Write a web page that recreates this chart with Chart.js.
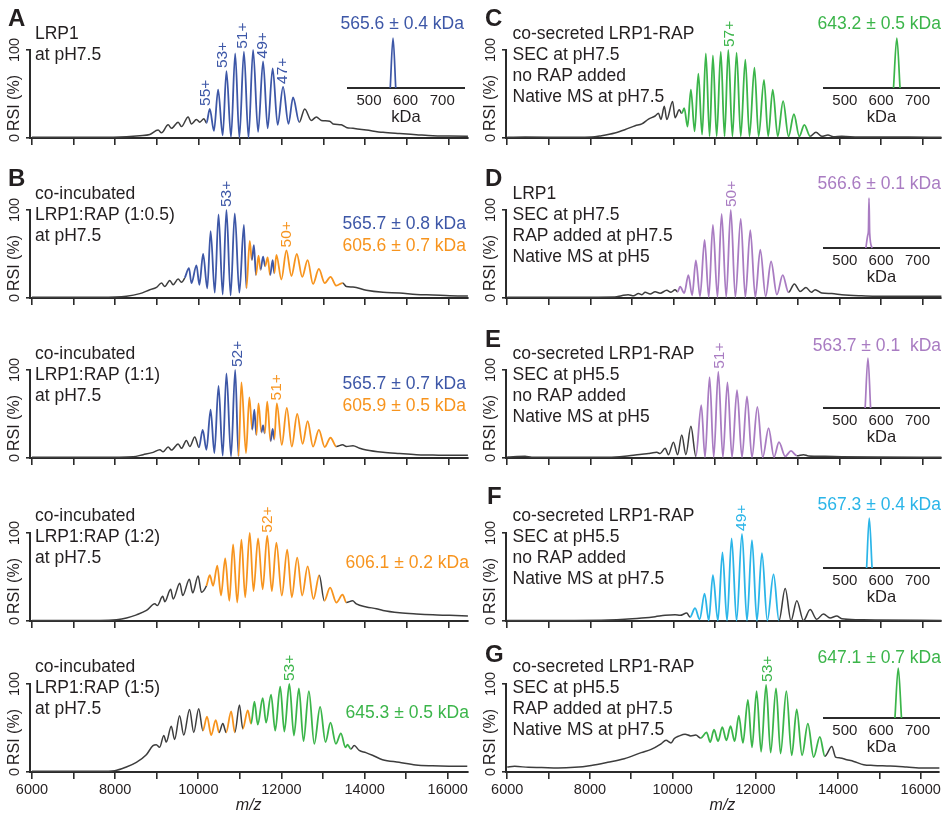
<!DOCTYPE html>
<html>
<head>
<meta charset="utf-8">
<script src="https://cdn.jsdelivr.net/npm/chart.js@4.4.1/dist/chart.umd.min.js"></script>
<style>
  body { margin: 0; background: #fff; width: 949px; height: 814px; position: relative; overflow: hidden;
         font-family: "Liberation Sans", Arial, sans-serif; color: #231f20; }
  canvas { position: absolute; }
  .t { position: absolute; font-size: 17.5px; line-height: 21px; white-space: pre; }
  .L { position: absolute; font-size: 24px; line-height: 24px; font-weight: bold; }
</style>
</head>
<body>
<script>
// ---- spectra: m/z and relative signal intensity (%) ----
const mzA  = [6000,6830,7630,8270,8590,8830,9030,9110,9270,9350,9510,9590,9750,9830,9950,10030,10130,10190,10270,10370,10470,10580,10670,10780,10880,10980,11090,11200,11310,11430,11550,11660,11780,11900,12030,12160,12270,12420,12550,12710,12830,12950,13150,13230,13430,13550,13710,14030,14430,14830,15230,15630,16030,16470];
const rsiA = [0.8,0.8,0.8,1.5,2.6,4,9,6,15,11,18,13,24,16,21,18,22,17,33,8,55,3,76,1,96,0.5,98,0.5,100,7,87,11,79,15,58,16,46,18,33,20,24,20,19,16,15,12,11,9,6.4,5,3.8,2.6,2.3,2];

const mzB  = [6000,7630,8270,8590,8830,8990,9110,9190,9310,9390,9510,9590,9670,9770,9830,9950,10020,10110,10210,10290,10390,10480,10580,10670,10770,10870,10980,11090,11150,11230,11280,11330,11380,11440,11490,11550,11600,11660,11720,11780,11820,11870,11990,12110,12230,12360,12490,12620,12750,12890,13030,13170,13310,13460,13550,13710,14030,14430,14830,15230,15630,16030,16470];
const rsiB = [0.8,0.8,2,5,9.4,12,17,13,20,15,21.5,18,23,34,17,37,15,50,11,76,6,95,4,100,3,96,6,83,11,65,43,60,26,48,32,47,36,46,26,43,28,49,21,54,25,50,24,43,16,33,17,24,14,17,13,12.5,8.7,6.4,5.7,4,3.4,2.6,2.3];

const mzB2  = [6000,7630,8430,8670,8910,9070,9150,9270,9350,9510,9590,9710,9790,9910,10010,10100,10190,10290,10380,10480,10580,10670,10780,10880,10960,11030,11140,11220,11290,11340,11390,11440,11510,11550,11590,11650,11730,11780,11820,11880,12000,12120,12240,12370,12500,12620,12750,12890,13030,13170,13310,13460,13550,13710,13870,14030,14430,14830,15230,15630,16030,16470];
const rsiB2 = [0.8,0.8,1.5,3.8,6.4,9.4,7,12.5,9,16,11,20,13,24,12,32,9.4,55,5.7,82,2.6,96,1.9,100,1.9,86,5.7,69,32,55,26,62,29,37,28,64,19,33,21,62,15,57,13,50,16,42,13,32,12.5,23,13,15,13,14,11,9,6.4,5,3.8,3.4,3,3];

const mzB3  = [6000,7630,8030,8270,8510,8750,8950,9010,9140,9190,9330,9390,9550,9620,9780,9860,9990,10070,10190,10270,10350,10450,10540,10640,10740,10830,10930,11030,11120,11230,11320,11430,11540,11650,11760,11870,12000,12130,12240,12370,12490,12620,12760,12900,13020,13160,13310,13460,13550,13700,13790,14030,14270,14430,14830,15230,15630,16030,16470];
const rsiB3 = [0.7,0.7,1.5,3.4,7,12,19.5,17.5,28,22,36,25,43,29,47.5,32,51,32.6,40,52,40,63,29,71,23,87,21,92.5,27,100,34,94,36,97,34,89,29,81,27,72,29,62,25,52,23,38,21,30,21,23,19.5,16,14,12,9.4,8,7,6.4,5.6];

const mzB4  = [6000,7630,7990,8270,8510,8750,8910,8990,9070,9170,9230,9350,9430,9550,9650,9790,9890,10010,10110,10210,10310,10420,10500,10590,10670,10790,10880,10990,11070,11190,11270,11350,11430,11550,11630,11750,11850,11970,12070,12190,12300,12420,12530,12660,12790,12930,13060,13180,13310,13430,13540,13590,13670,13750,13870,14030,14190,14430,14830,15230,15630,16030,16470];
const rsiB4 = [0.8,0.8,1.5,5.7,11,19.6,30,31,28,41.5,34,52,37,64,42,71,45,72,47,63,42,59,45,55,45,69,45,76,49,70,55,80,54,84,56,88,47,97,46,100,41.5,95,35,92,32,74,34,56,32,44,28,31,26,30,24.5,22,19,14,11,8,7,6.5,6.4];

const mzC  = [6000,6430,7630,8030,8270,8590,8830,9080,9240,9400,9560,9640,9700,9780,9840,9980,10040,10140,10200,10260,10340,10420,10510,10600,10690,10780,10870,10950,11040,11140,11230,11320,11420,11520,11620,11730,11830,11950,12050,12180,12280,12390,12510,12640,12770,12900,13030,13150,13290,13430,13570,13720,13850,14050,14460,14860,15660,16450];
const rsiC = [0.8,1,0.8,1,2.6,5.7,9.4,14,16,21.5,25,28,21,36,21,41.5,23,32,28,34,13,55,7.5,73,3.8,96,1.9,94,1.9,98,1.9,100,1.9,97,1.9,89,1.9,80,1.9,66,1.9,55,1.9,42,1.9,27,1.9,15,1.9,6.4,1.9,3.4,1.5,1.9,1.1,1.1,1.1,0.8];

const mzD  = [6000,7630,8590,8750,8910,9040,9160,9240,9320,9440,9560,9680,9840,9940,10040,10100,10160,10260,10360,10450,10540,10640,10750,10850,10950,11060,11160,11270,11380,11490,11620,11730,11850,11970,12090,12220,12350,12490,12630,12770,12910,13050,13190,13320,13410,13570,13810,14050,14460,14860,15660,16450];
const rsiD = [0.8,0.8,1.1,2.6,3.8,2.6,5,3.8,6.4,4.5,7,5.5,8.7,6.5,9.4,7,13,5.7,26,3,42.6,1.9,66,1.1,83,1.1,95.5,1.1,100,1.1,90,1.1,77,1.1,55,1.9,41.5,3.8,26,6.4,16,7.5,12,6.4,9.4,5.7,5,3.8,2.6,1.9,1.9,1.9];

const mzE  = [6000,6430,6590,7630,8430,8830,9080,9240,9400,9480,9600,9680,9800,9880,10000,10100,10200,10300,10420,10540,10670,10760,10870,10970,11080,11190,11300,11410,11530,11650,11770,11890,12020,12150,12290,12420,12540,12690,12830,12970,13130,13250,13650,14050,14860,16450];
const rsiE = [1.1,1.9,0.8,0.8,0.8,1.9,3.4,4.2,5,5.7,6.4,5,11,3.8,18,3.8,26,3.8,36,1.9,60,0.8,92,0.8,98,0.8,86,0.8,77,0.8,70,0.8,58,0.8,34,1.1,18,1.9,8,2.6,3.8,2.3,1.9,1.5,1.1,0.8];

const mzF  = [6000,7630,8430,8830,9240,9560,9800,10040,10160,10320,10400,10520,10630,10750,10850,10950,11070,11180,11290,11400,11520,11650,11770,11890,12010,12130,12260,12410,12540,12690,12830,12970,13130,13290,13450,13610,13770,13930,14050,14460,14860,16450];
const rsiF = [0.7,0.7,1.1,1.9,3.4,4.9,6.4,7,6.4,9,4.5,14.6,1.9,31,0.7,52,0.4,78,0.4,94,0.4,99,0.4,92,0.4,77,0.4,53,0.4,37,0.4,23,0.4,13,1.9,8,3.4,5.6,2.6,1.5,1.1,0.7];

const mzG  = [6000,6180,6510,6830,7230,7630,8030,8430,8830,9240,9480,9720,9840,9960,10040,10160,10300,10440,10560,10680,10820,10910,11000,11100,11200,11300,11400,11500,11600,11700,11820,11920,12030,12140,12260,12370,12500,12610,12750,12880,13000,13130,13270,13410,13560,13680,13850,13940,14050,14210,14380,14620,14860,15260,15660,16060,16450];
const rsiG = [5.7,6.4,5.3,5,4.5,5.3,7.5,11,15,22,25.7,32,36,33,38,41,43,41,42,38.5,45,34,48,35,51,36,52,35,64,33,82,28,92,23,99,22,95,21,92,19,71,19,55,17,40,18,29,17,16,14,12,8.3,7.5,6.8,5.7,4.5,4.5];

// m/z stretches drawn in each assigned colour
const blueA   = [[10165, 12480]];
const blueB   = [[9660, 11170], [11295, 11360], [11515, 11580], [11745, 11805]];
const orangeB = [[11170, 13480]];
const blueB2   = [[10050, 10960], [11305, 11370], [11525, 11575], [11750, 11805]];
const orangeB2 = [[10960, 13320]];
const orangeB3 = [[10210, 12950], [13050, 13520]];
const orangeB4 = [[10150, 10545], [10725, 10840], [11120, 11235]];
const greenB4  = [[11235, 13640]];
const greenC  = [[10175, 13350]];
const purpleD = [[10125, 12710]];
const purpleE = [[10600, 12910]];
const cyanF   = [[10460, 12600]];
const greenG  = [[10745, 13625]];

// charge state labels
const chargeA = ['55+', '53+', '51+', '49+', '47+'];
const chargeMzA = [10180, 10590, 11070, 11550, 12030];
const chargeB = ['53+', '50+'];
const chargeMzB = [10670, 12110];
const chargeB2 = ['52+', '51+'];
const chargeMzB2 = [10950, 11880];
const chargeB3 = ['52+'];
const chargeMzB3 = [11650];
const chargeB4 = ['53+'];
const chargeMzB4 = [12190];
const chargeC = ['57+'];  const chargeMzC = [11360];
const chargeD = ['50+'];  const chargeMzD = [11400];
const chargeE = ['51+'];  const chargeMzE = [11120];
const chargeF = ['49+'];  const chargeMzF = [11650];
const chargeG = ['53+'];  const chargeMzG = [12290];

// deconvolved mass insets (kDa, relative height)
const kdaA = [558, 565.6, 573];          const relA = [0, 100, 0];
const kdaC = [634, 643.2, 652];          const relC = [0, 100, 0];
const kdaD = [558, 563, 565, 566.6, 568.5, 575]; const relD = [0, 25, 35, 100, 30, 0];
const kdaE = [556, 563.7, 571];          const relE = [0, 100, 0];
const kdaF = [560, 567.3, 575];          const relF = [0, 100, 0];
const kdaG = [638, 647.1, 656];          const relG = [0, 100, 0];

// axis ticks
const mzTicks = [6000, 7000, 8000, 9000, 10000, 11000, 12000, 13000, 14000, 15000, 16000];
const mzLabels = [6000, 8000, 10000, 12000, 14000, 16000];
const rsiTicks = [0, 100];
const kdaTicks = [500, 600, 700];

const ink = '#231f20', axisInk = '#2b2b2b', trace = '#3d3d3d';
const blue = '#3d57a7', orange = '#f7941e', green = '#3bb54a', purple = '#a97cc2', cyan = '#2bb5e8';
const FONT = '"Liberation Sans", Arial, sans-serif';
Chart.defaults.font.family = FONT;

const rowTops = [0, 160, 320, 483, 634];

function tint(spans, x) {
  for (const [colour, ranges] of spans) {
    for (const [lo, hi] of ranges) if (x >= lo && x < hi) return colour;
  }
  return undefined;
}

function annotations(p) {
  return {
    id: 'annot',
    afterDraw(chart) {
      const { ctx, chartArea, scales: { x, y } } = chart;
      const rot = (txt, px, py) => {
        ctx.save(); ctx.translate(px, py); ctx.rotate(-Math.PI / 2); ctx.fillText(txt, 0, 0); ctx.restore();
      };
      ctx.save();
      ctx.fillStyle = ink;
      ctx.textBaseline = 'middle';
      ctx.textAlign = 'center';
      ctx.font = '14.5px ' + FONT;
      rsiTicks.forEach(v => rot(String(v), chartArea.left - 15.5, y.getPixelForValue(v)));
      ctx.font = '16px ' + FONT;
      rot('RSI (%)', chartArea.left - 15.5, chartArea.bottom - 35);
      ctx.font = '15.5px ' + FONT;
      ctx.textAlign = 'left';
      const pts = chart.data.datasets[0].data;
      p.charges.forEach((txt, i) => {
        const at = p.chargeMz[i];
        let top = 0;
        pts.forEach(q => { if (Math.abs(q.x - at) <= 100) top = Math.max(top, q.y); });
        ctx.fillStyle = p.chargeInk[i];
        rot(txt, x.getPixelForValue(at), y.getPixelForValue(top) - 3);
      });
      ctx.restore();
    }
  };
}

function spectrum(p) {
  const left = p.col ? 475 : 0;
  const width = p.col ? 468 : 470;
  const last = p.row === 4;
  const height = last ? 180 : 160;
  const cv = document.createElement('canvas');
  cv.width = width; cv.height = height;
  Object.assign(cv.style, { left: left + 'px', top: rowTops[p.row] + 'px', width: width + 'px', height: height + 'px' });
  document.body.appendChild(cv);
  new Chart(cv, {
    type: 'line',
    data: {
      datasets: [{
        data: p.mz.map((v, i) => ({ x: v, y: p.rsi[i] })),
        borderColor: trace,
        borderWidth: 1.5,
        pointRadius: 0,
        cubicInterpolationMode: 'monotone',
        clip: false,
        segment: {
          borderColor: s => tint(p.spans, (s.p0.parsed.x + s.p1.parsed.x) / 2),
          borderWidth: s => tint(p.spans, (s.p0.parsed.x + s.p1.parsed.x) / 2) ? 1.8 : undefined
        }
      }]
    },
    options: {
      responsive: false,
      animation: false,
      events: [],
      layout: { padding: { top: 50, left: p.col ? 25 : 24, right: 2, bottom: 0 } },
      plugins: { legend: { display: false }, tooltip: { enabled: false } },
      scales: {
        x: {
          type: 'linear',
          min: p.col ? 5970 : 5952,
          max: p.col ? 16440 : 16472,
          afterBuildTicks: s => { s.ticks = mzTicks.map(v => ({ value: v })); },
          afterFit: s => { s.height = height - 138; },
          ticks: {
            autoSkip: false, maxRotation: 0, padding: 2, color: ink, font: { size: 14.5 },
            callback: v => (last && mzLabels.includes(v)) ? String(v) : ''
          },
          grid: { drawOnChartArea: false, tickLength: 7, color: axisInk, lineWidth: 1.6 },
          border: { color: axisInk, width: 2 },
          title: { display: last, text: 'm/z', color: ink, padding: 0,
                   font: { size: 16, style: 'italic', lineHeight: 1 } }
        },
        y: {
          min: 0, max: 100,
          afterBuildTicks: s => { s.ticks = rsiTicks.map(v => ({ value: v })); },
          afterFit: s => { s.width = 6; },
          ticks: { display: false },
          grid: { drawOnChartArea: false, tickLength: 4, color: axisInk, lineWidth: 1.6 },
          border: { color: axisInk, width: 2 }
        }
      }
    },
    plugins: [annotations(p)]
  });
}

function inset(col, base, kda, rel, colour) {
  const cv = document.createElement('canvas');
  const left = col ? 823 : 347, width = col ? 117 : 118;
  cv.width = width; cv.height = 100;
  Object.assign(cv.style, { left: left + 'px', top: (base - 60) + 'px', width: width + 'px', height: '100px' });
  document.body.appendChild(cv);
  new Chart(cv, {
    type: 'line',
    data: { datasets: [{ data: kda.map((v, i) => ({ x: v, y: rel[i] })), borderColor: colour, borderWidth: 1.7,
                         pointRadius: 0, cubicInterpolationMode: 'monotone', clip: false }] },
    options: {
      responsive: false, animation: false, events: [],
      layout: { padding: { top: 10, left: 0, right: 0, bottom: 0 } },
      plugins: { legend: { display: false }, tooltip: { enabled: false } },
      scales: {
        x: {
          type: 'linear', min: 440, max: 762,
          afterBuildTicks: s => { s.ticks = kdaTicks.map(v => ({ value: v })); },
          afterFit: s => { s.height = 40; },
          ticks: { autoSkip: false, maxRotation: 0, padding: 4, color: ink, font: { size: 15 }, callback: v => String(v) },
          grid: { display: false, drawTicks: false },
          border: { color: axisInk, width: 2 },
          title: { display: true, text: 'kDa', color: ink, font: { size: 16.5 }, padding: { top: 0, bottom: 1 } }
        },
        y: { display: false, min: 0, max: 100 }
      }
    }
  });
}

function put(text, x, baseline, colour, alignRight) {
  const d = document.createElement('div');
  d.className = 't';
  d.textContent = text;
  d.style.top = (baseline - 16.6) + 'px';
  if (alignRight) d.style.right = (949 - x) + 'px'; else d.style.left = x + 'px';
  if (colour) d.style.color = colour;
  document.body.appendChild(d);
}

function letter(ch, x, baseline) {
  const d = document.createElement('div');
  d.className = 'L';
  d.textContent = ch;
  d.style.left = x + 'px';
  d.style.top = (baseline - 20.3) + 'px';
  document.body.appendChild(d);
}

const panels = [
  { col: 0, row: 0, mz: mzA,  rsi: rsiA,  spans: [[blue, blueA]], charges: chargeA, chargeMz: chargeMzA, chargeInk: [blue, blue, blue, blue, blue] },
  { col: 0, row: 1, mz: mzB,  rsi: rsiB,  spans: [[blue, blueB], [orange, orangeB]], charges: chargeB, chargeMz: chargeMzB, chargeInk: [blue, orange] },
  { col: 0, row: 2, mz: mzB2, rsi: rsiB2, spans: [[blue, blueB2], [orange, orangeB2]], charges: chargeB2, chargeMz: chargeMzB2, chargeInk: [blue, orange] },
  { col: 0, row: 3, mz: mzB3, rsi: rsiB3, spans: [[orange, orangeB3]], charges: chargeB3, chargeMz: chargeMzB3, chargeInk: [orange] },
  { col: 0, row: 4, mz: mzB4, rsi: rsiB4, spans: [[orange, orangeB4], [green, greenB4]], charges: chargeB4, chargeMz: chargeMzB4, chargeInk: [green] },
  { col: 1, row: 0, mz: mzC,  rsi: rsiC,  spans: [[green, greenC]], charges: chargeC, chargeMz: chargeMzC, chargeInk: [green] },
  { col: 1, row: 1, mz: mzD,  rsi: rsiD,  spans: [[purple, purpleD]], charges: chargeD, chargeMz: chargeMzD, chargeInk: [purple] },
  { col: 1, row: 2, mz: mzE,  rsi: rsiE,  spans: [[purple, purpleE]], charges: chargeE, chargeMz: chargeMzE, chargeInk: [purple] },
  { col: 1, row: 3, mz: mzF,  rsi: rsiF,  spans: [[cyan, cyanF]], charges: chargeF, chargeMz: chargeMzF, chargeInk: [cyan] },
  { col: 1, row: 4, mz: mzG,  rsi: rsiG,  spans: [[green, greenG]], charges: chargeG, chargeMz: chargeMzG, chargeInk: [green] }
];
panels.forEach(spectrum);

inset(0, 88, kdaA, relA, blue);
inset(1, 88, kdaC, relC, green);
inset(1, 248, kdaD, relD, purple);
inset(1, 408, kdaE, relE, purple);
inset(1, 568, kdaF, relF, cyan);
inset(1, 718, kdaG, relG, green);

// panel letters
letter('A', 8, 26); letter('B', 8, 186);
letter('C', 485, 26); letter('D', 485, 186); letter('E', 485, 347); letter('F', 487, 504); letter('G', 485, 662);

// sample descriptions
put('LRP1\nat pH7.5', 35, 39.3);
put('co-incubated\nLRP1:RAP (1:0.5)\nat pH7.5', 35, 200);
put('co-incubated\nLRP1:RAP (1:1)\nat pH7.5', 35, 360);
put('co-incubated\nLRP1:RAP (1:2)\nat pH7.5', 35, 521.7);
put('co-incubated\nLRP1:RAP (1:5)\nat pH7.5', 35, 673);
put('co-secreted LRP1-RAP\nSEC at pH7.5\nno RAP added\nNative MS at pH7.5', 512.5, 40);
put('LRP1\nSEC at pH7.5\nRAP added at pH7.5\nNative MS at pH5', 512.5, 200);
put('co-secreted LRP1-RAP\nSEC at pH5.5\nno RAP added\nNative MS at pH5', 512.5, 360);
put('co-secreted LRP1-RAP\nSEC at pH5.5\nno RAP added\nNative MS at pH7.5', 512.5, 521.7);
put('co-secreted LRP1-RAP\nSEC at pH5.5\nRAP added at pH7.5\nNative MS at pH7.5', 512.5, 673);

// masses
put('565.6 ± 0.4 kDa', 464, 29.3, blue, true);
put('565.7 ± 0.8 kDa', 466, 230, blue, true);
put('605.6 ± 0.7 kDa', 466, 251.7, orange, true);
put('565.7 ± 0.7 kDa', 466, 390, blue, true);
put('605.9 ± 0.5 kDa', 466, 412, orange, true);
put('606.1 ± 0.2 kDa', 469, 568.3, orange, true);
put('645.3 ± 0.5 kDa', 469, 718.3, green, true);
put('643.2 ± 0.5 kDa', 941, 29.3, green, true);
put('566.6 ± 0.1 kDa', 941, 190, purple, true);
put('563.7 ± 0.1  kDa', 941, 351.7, purple, true);
put('567.3 ± 0.4 kDa', 941, 511, cyan, true);
put('647.1 ± 0.7 kDa', 941, 663.3, green, true);
</script>
</body>
</html>
